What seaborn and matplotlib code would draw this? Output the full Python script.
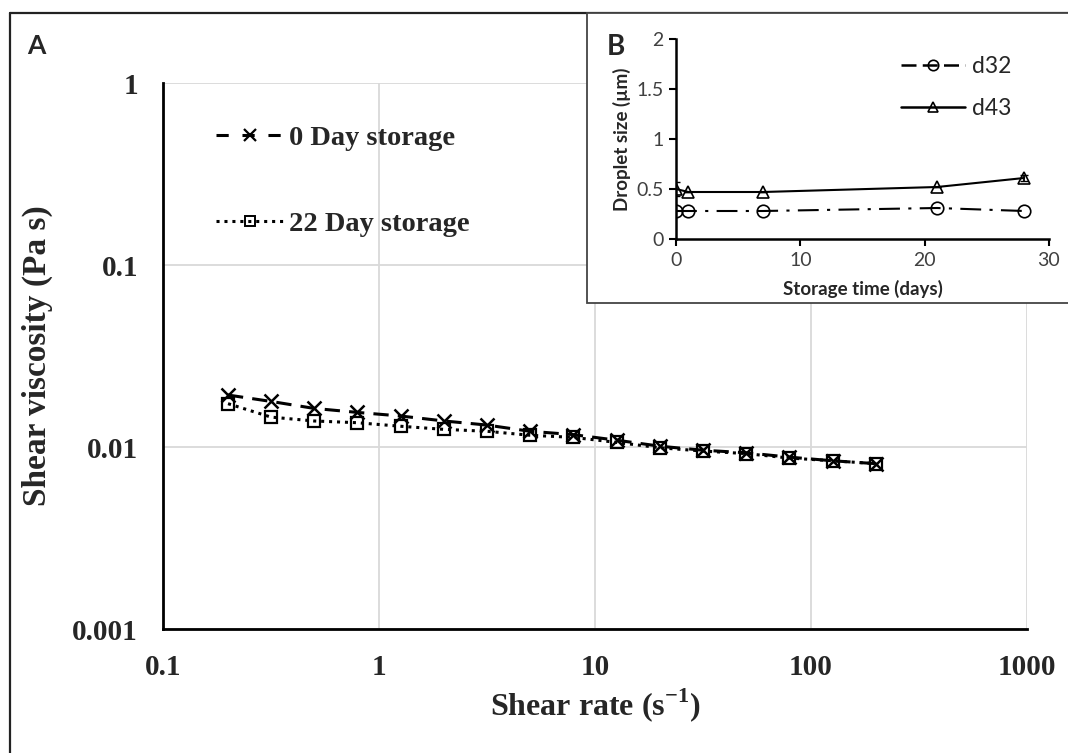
import numpy as np
import pandas as pd
import seaborn as sns
import matplotlib.pyplot as plt
from matplotlib.patches import Rectangle
from matplotlib.lines import Line2D
from matplotlib.ticker import FixedLocator, FuncFormatter, NullLocator

# panel A: shear viscosity vs shear rate
shear_rate = [0.2, 0.316, 0.5, 0.79, 1.26, 2.0, 3.16, 5.0, 7.9, 12.6, 20, 31.6, 50, 79, 126, 200]
visc_day0 = [0.0193, 0.0178, 0.0163, 0.0155, 0.0148, 0.0139, 0.0132, 0.0122,
             0.0117, 0.0109, 0.0101, 0.0096, 0.0093, 0.0088, 0.0084, 0.0081]
visc_day22 = [0.0173, 0.0146, 0.0139, 0.0136, 0.0130, 0.0125, 0.0122, 0.0116,
              0.0113, 0.0106, 0.0099, 0.0095, 0.0092, 0.0087, 0.0084, 0.0081]

# panel B: droplet size vs storage time
days = [0, 1, 7, 21, 28]
d32 = [0.28, 0.28, 0.28, 0.31, 0.28]
d43 = [0.50, 0.47, 0.47, 0.52, 0.61]
d43_err = [0.07, 0.0, 0.0, 0.0, 0.03]

sns.set_style("white")
serif = ["Liberation Serif", "DejaVu Serif"]
sans = ["Lato", "DejaVu Sans"]
plt.rcParams["mathtext.fontset"] = "custom"
plt.rcParams["mathtext.rm"] = "Liberation Serif"
plt.rcParams["mathtext.bf"] = "Liberation Serif:bold"

df_a = pd.DataFrame({"rate": shear_rate, "day0": visc_day0, "day22": visc_day22})
df_b = pd.DataFrame({"day": days, "d32": d32, "d43": d43})

fig = plt.figure(figsize=(10.68, 7.53), dpi=100)
W, H = 1068, 753

ax = fig.add_axes([163 / W, 1 - 629 / H, (1027 - 163) / W, (629 - 83) / H])
sns.lineplot(data=df_a, x="rate", y="day0", ax=ax, color="black", lw=2.2,
             linestyle=(0, (5, 3)), marker="x", markersize=10, mew=1.8, mec="black")
sns.lineplot(data=df_a, x="rate", y="day22", ax=ax, color="black", lw=2.2,
             linestyle=(0, (1, 1.6)), marker="s", markersize=9, mew=1.6, mec="black", mfc="none")
ax.set_xscale("log")
ax.set_yscale("log")
ax.set_xlim(0.1, 1000)
ax.set_ylim(0.001, 1)
ax.xaxis.set_major_locator(FixedLocator([0.1, 1, 10, 100, 1000]))
ax.yaxis.set_major_locator(FixedLocator([0.001, 0.01, 0.1, 1]))
ax.xaxis.set_minor_locator(NullLocator())
ax.yaxis.set_minor_locator(NullLocator())
fmt = FuncFormatter(lambda v, p: "%g" % v)
ax.xaxis.set_major_formatter(fmt)
ax.yaxis.set_major_formatter(fmt)
ax.grid(True, color="#d9d9d9", lw=1.3)
ax.tick_params(axis="x", length=0, pad=18)
ax.tick_params(axis="y", length=0, pad=18)
for lab in ax.get_xticklabels() + ax.get_yticklabels():
    lab.set_family(serif)
    lab.set_fontweight("bold")
    lab.set_fontsize(21)
for s in ["top", "right"]:
    ax.spines[s].set_visible(False)
for s in ["left", "bottom"]:
    ax.spines[s].set_color("black")
    ax.spines[s].set_linewidth(2)
ax.set_xlabel("Shear rate (s$^{\\mathbf{-1}}$)", family=serif, fontweight="bold", fontsize=23, labelpad=4)
ax.set_ylabel("Shear viscosity (Pa s)", family=serif, fontweight="bold", fontsize=24, labelpad=14)

h0 = Line2D([], [], color="black", lw=2.2, linestyle=(0, (4, 4.5)), marker="x", markersize=8, mew=1.6)
h1 = Line2D([], [], color="black", lw=2.2, linestyle=(0, (1, 1.6)), marker="s", markersize=7, mew=1.4, mfc="none")
leg = ax.legend([h0, h1], ["0 Day storage", "22 Day storage"], loc="upper left",
                bbox_to_anchor=(0.032, 0.97), frameon=False, handlelength=2.4, handletextpad=0.15,
                labelspacing=2.1, prop={"family": serif, "weight": "bold", "size": 20.5})

# outer frame
fig.add_artist(Line2D([10 / W, 10 / W], [0, 1 - 13 / H], color="#222222", lw=1.6))
fig.add_artist(Line2D([10 / W, 1], [1 - 13 / H, 1 - 13 / H], color="#222222", lw=1.6))
fig.text(27 / W, 1 - 46 / H, "A", family=sans, fontweight="bold", fontsize=19, va="center")

# inset box
box = Rectangle((587 / W, 1 - 303 / H), (W + 5 - 587) / W, (303 - 13) / H,
                transform=fig.transFigure, facecolor="white", edgecolor="#444444", lw=1.3, zorder=2)
fig.add_artist(box)

axb = fig.add_axes([676 / W, 1 - 239 / H, (1049 - 676) / W, (239 - 39) / H])
axb.set_zorder(3)
axb.patch.set_alpha(0)
sns.lineplot(data=df_b, x="day", y="d32", ax=axb, color="black", lw=1.5,
             linestyle=(0, (10, 4, 1.5, 4)), marker="o", markersize=9, mew=1.2, mec="black", mfc="none")
sns.lineplot(data=df_b, x="day", y="d43", ax=axb, color="black", lw=1.5,
             marker="^", markersize=9, mew=1.2, mec="black", mfc="none")
axb.errorbar(days, d43, yerr=d43_err, fmt="none", ecolor="black", elinewidth=1.3, capsize=3)
axb.set_xlim(0, 30)
axb.set_ylim(0, 2)
axb.set_xticks([0, 10, 20, 30])
axb.set_yticks([0, 0.5, 1, 1.5, 2])
axb.yaxis.set_major_formatter(fmt)
for s in ["top", "right"]:
    axb.spines[s].set_visible(False)
for s in ["left", "bottom"]:
    axb.spines[s].set_color("black")
    axb.spines[s].set_linewidth(1.8)
axb.tick_params(direction="out", length=5, width=1.5, color="black", labelsize=14,
                labelcolor="#404040", left=True, bottom=True, pad=4)
for lab in axb.get_xticklabels() + axb.get_yticklabels():
    lab.set_family(sans)
axb.set_xlabel("Storage time (days)", family=sans, fontweight="bold", fontsize=13.5, labelpad=8)
axb.set_ylabel("Droplet size (µm)", family=sans, fontweight="bold", fontsize=13.5, labelpad=4)

hb0 = Line2D([], [], color="black", lw=1.8, linestyle=(0, (6, 2.5)), marker="o", markersize=7.5, mew=1.2, mfc="none")
hb1 = Line2D([], [], color="black", lw=1.8, marker="^", markersize=7.5, mew=1.2, mfc="none")
axb.legend([hb0, hb1], ["d32", "d43"], loc="upper right", bbox_to_anchor=(0.955, 1.02),
           frameon=False, handlelength=2.8, labelspacing=0.95, handletextpad=0.3,
           prop={"family": sans, "size": 16.5})
fig.text(607 / W, 1 - 47 / H, "B", family=sans, fontweight="bold", fontsize=20, va="center", zorder=4)

fig.savefig("out.png", dpi=100, facecolor="white")
